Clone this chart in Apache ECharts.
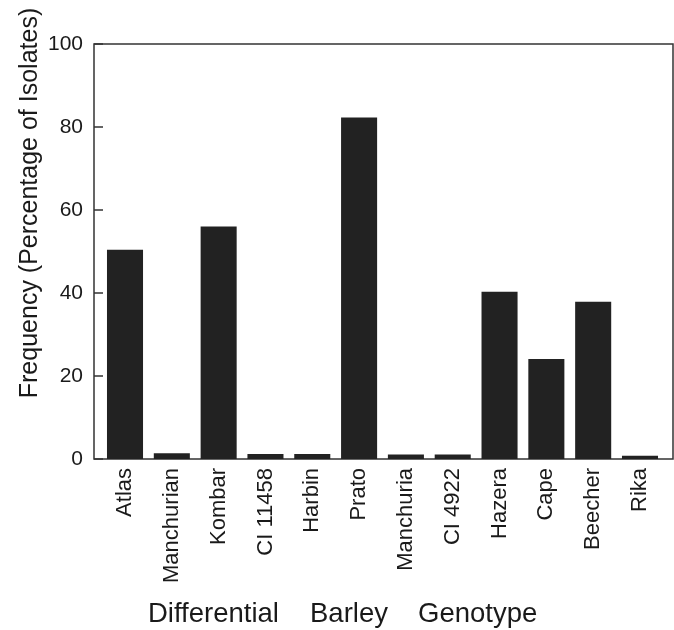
<!DOCTYPE html>
<html>
<head>
<meta charset="utf-8">
<script src="https://cdn.jsdelivr.net/npm/echarts@6/dist/echarts.min.js"></script>
<style>html,body{margin:0;padding:0;background:#fff}#c{width:674px;height:630px}</style>
</head>
<body>
<div id="c"></div>
<script>
const categories = ['Atlas','Manchurian','Kombar','CI 11458','Harbin','Prato','Manchuria','CI 4922','Hazera','Cape','Beecher','Rika'];
const frequency = [50.4, 1.4, 56.0, 1.2, 1.2, 82.3, 1.1, 1.1, 40.3, 24.1, 37.9, 0.8];
const yTicks = [0, 20, 40, 60, 80, 100];
const yTitle = 'Frequency (Percentage of Isolates)';
const xTitleWords = ['Differential', 'Barley', 'Genotype'];

const FONT = '"Liberation Sans", Arial, Helvetica, sans-serif';
const chart = echarts.init(document.getElementById('c'), null, {renderer: 'canvas'});
chart.setOption({
  animation: false,
  backgroundColor: '#fff',
  grid: [
    {left: 94, right: 1, top: 44, bottom: 171, show: true, borderColor: '#333', borderWidth: 1.5, backgroundColor: 'transparent'},
    {left: 101.6, right: 10.6, top: 44, bottom: 171}
  ],
  xAxis: [
    {gridIndex: 0, type: 'value', show: false, min: 0, max: 1},
    {gridIndex: 1, type: 'category', data: categories,
     axisLine: {show: false}, axisTick: {show: false},
     axisLabel: {rotate: 90, margin: 9, fontSize: 22, color: '#1a1a1a', fontFamily: FONT, interval: 0}}
  ],
  yAxis: [
    {gridIndex: 0, type: 'value', min: yTicks[0], max: yTicks[yTicks.length-1], interval: 20,
     axisLine: {show: false}, splitLine: {show: false},
     axisTick: {show: true, length: 9, inside: true, lineStyle: {color: '#333', width: 1.5}},
     axisLabel: {fontSize: 21, color: '#1a1a1a', fontFamily: FONT, margin: 11}},
    {gridIndex: 1, type: 'value', min: 0, max: 100, show: false}
  ],
  series: [{
    type: 'bar', xAxisIndex: 1, yAxisIndex: 1, data: frequency,
    barCategoryGap: '23%',
    itemStyle: {color: '#222'}
  }],
  graphic: [
    {type: 'text', x: 30, y: 203, rotation: Math.PI/2,
     style: {text: yTitle, fontSize: 25, fontFamily: FONT, fill: '#1a1a1a', textAlign: 'center', textVerticalAlign: 'middle'}},
    {type: 'text', x: 148, y: 614, style: {text: xTitleWords[0], fontSize: 27.5, fontFamily: FONT, fill: '#1a1a1a', textAlign: 'left', textVerticalAlign: 'middle'}},
    {type: 'text', x: 310, y: 614, style: {text: xTitleWords[1], fontSize: 27.5, fontFamily: FONT, fill: '#1a1a1a', textAlign: 'left', textVerticalAlign: 'middle'}},
    {type: 'text', x: 418, y: 614, style: {text: xTitleWords[2], fontSize: 27.5, fontFamily: FONT, fill: '#1a1a1a', textAlign: 'left', textVerticalAlign: 'middle'}}
  ]
});
</script>
</body>
</html>
